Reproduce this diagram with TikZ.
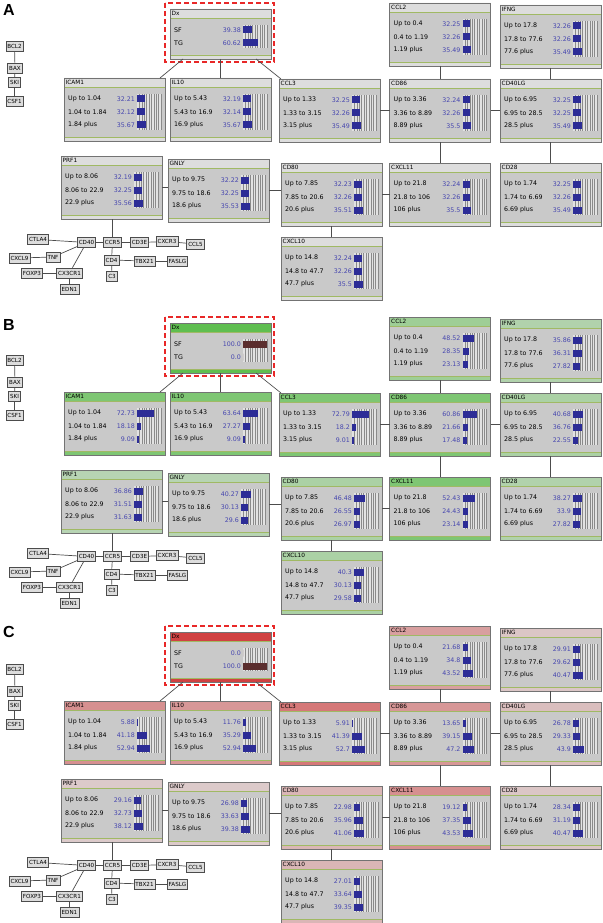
\documentclass[tikz,border=0pt]{standalone}
\usepackage{fontspec}
\newfontfamily\bnfont{DejaVu Sans}
\newfontfamily\lettfont{Liberation Sans}

\definecolor{hdr}{RGB}{221,221,221}
\definecolor{bnbody}{RGB}{201,201,201}
\definecolor{bnline}{RGB}{115,115,115}
\definecolor{sepgreen}{RGB}{160,185,100}
\definecolor{hatchbg}{RGB}{226,226,226}
\definecolor{hatchdark}{RGB}{138,138,138}
\definecolor{valblue}{RGB}{70,70,175}
\definecolor{bnbar}{RGB}{44,44,150}
\definecolor{dxbar}{RGB}{90,45,45}
\definecolor{sfgreen}{RGB}{95,190,80}
\definecolor{tgred}{RGB}{208,66,66}
\definecolor{dxred}{RGB}{232,40,40}

% frame of one node box, drawn in a scope shifted to its top left corner
\newcommand{\bnframe}[3]{%
  \node[bnnode, minimum height=#2pt] (\pfx-#1) at (0,0) {};
  \fill[#3] (0,0) rectangle (101,-9) (0,{4-#2}) rectangle (101,-#2);
  \draw[bnsep] (0,-9) -- (101,-9) (0,{4-#2}) -- (101,{4-#2});
  \node[bntitle] at (1.5,-4.5) {#1};
  \fill[hatchbg] (73,-16) rectangle (97,{11-#2});
  \foreach \k in {1,...,10}
    \draw[hatchline] ({73+2.4*\k},-16) -- ({73+2.4*\k},{11-#2});
}
% one state row: row, label, value, bar colour
\newcommand{\bnrow}[4]{%
  \node[bnlabel] at (4,{-8-13*#1}) {#2};
  \node[bnvalue] at (71,{-8-13*#1}) {#3};
  \fill[#4] (73,{-4.5-13*#1}) rectangle ({73+0.24*#3},{-11.5-13*#1});
}
% name, x, y, cut 1, cut 2, title fill, three values
\newcommand{\bnbox}[9]{%
  \begin{scope}[shift={(#2,{-#3-\py})}]
    \bnframe{#1}{63}{#6}
    \bnrow{1}{Up to #4}{#7}{bnbar}
    \bnrow{2}{#4 to #5}{#8}{bnbar}
    \bnrow{3}{#5 plus}{#9}{bnbar}
    \draw[bnedge] (0,0) rectangle (101,-63);
  \end{scope}}
% Dx box: title fill, bar colour, SF, TG
\newcommand{\dxbox}[4]{%
  \begin{scope}[shift={(170,{-9-\py})}]
    \bnframe{Dx}{50}{#1}
    \bnrow{1}{SF}{#3}{#2}
    \bnrow{2}{TG}{#4}{#2}
    \draw[bnedge] (0,0) rectangle (101,-50);
    \draw[dxsel] (-5,6) rectangle (104,-53);
  \end{scope}}

\begin{document}
\begin{tikzpicture}[x=1pt,y=1pt,
    bnnode/.style={anchor=north west,minimum width=101pt,inner sep=0pt,outer sep=0pt,fill=bnbody},
    bnedge/.style={draw=bnline,line width=0.7pt},
    bnsep/.style={draw=sepgreen,line width=0.5pt},
    hatchline/.style={draw=hatchdark,line width=0.4pt},
    bntitle/.style={anchor=west,inner sep=0pt,font=\bnfont\fontsize{5.8}{6}\selectfont},
    bnlabel/.style={anchor=west,inner sep=0pt,font=\bnfont\fontsize{6.3}{7}\selectfont},
    bnvalue/.style={anchor=east,inner sep=0pt,text=valblue,font=\bnfont\fontsize{6.3}{7}\selectfont},
    gene/.style={draw=gray!60!black,fill=hdr,line width=0.6pt,inner xsep=1.5pt,inner ysep=1pt,
      minimum height=10pt,font=\bnfont\fontsize{5.6}{6}\selectfont},
    link/.style={draw=gray!60!black,line width=0.7pt},
    dxsel/.style={draw=dxred,line width=1.6pt,dash pattern=on 5pt off 3pt},
    panelletter/.style={inner sep=0pt,font=\lettfont\bfseries\fontsize{16}{16}\selectfont}]
\useasboundingbox (0,0) rectangle (602,-923);

% A: no evidence
\def\pfx{a}\def\py{0}
\node[panelletter] (a-letter) at (9,-10) {A};
\dxbox{hdr}{bnbar}{39.38}{60.62}
\bnbox{ICAM1}{64}{78}{1.04}{1.84}{hdr}{32.21}{32.12}{35.67}
\bnbox{IL10}{170}{78}{5.43}{16.9}{hdr}{32.19}{32.14}{35.67}
\bnbox{CCL3}{279}{79}{1.33}{3.15}{hdr}{32.25}{32.26}{35.49}
\bnbox{CCL2}{389.5}{3}{0.4}{1.19}{hdr}{32.25}{32.26}{35.49}
\bnbox{IFNG}{500}{5}{17.8}{77.6}{hdr}{32.26}{32.26}{35.49}
\bnbox{CD86}{389.5}{79}{3.36}{8.89}{hdr}{32.24}{32.26}{35.5}
\bnbox{CD40LG}{500}{79}{6.95}{28.5}{hdr}{32.25}{32.25}{35.49}
\bnbox{PRF1}{61}{156}{8.06}{22.9}{hdr}{32.19}{32.25}{35.56}
\bnbox{GNLY}{168}{159}{9.75}{18.6}{hdr}{32.22}{32.25}{35.53}
\bnbox{CD80}{281}{163}{7.85}{20.6}{hdr}{32.23}{32.26}{35.51}
\bnbox{CXCL11}{389.5}{163}{21.8}{106}{hdr}{32.24}{32.26}{35.5}
\bnbox{CD28}{500}{163}{1.74}{6.69}{hdr}{32.25}{32.26}{35.49}
\bnbox{CXCL10}{281}{237}{14.8}{47.7}{hdr}{32.24}{32.26}{35.5}

% B: Dx = SF
\def\pfx{b}\def\py{314}
\node[panelletter] (b-letter) at (9,-325) {B};
\dxbox{sfgreen}{dxbar}{100.0}{0.0}
\bnbox{ICAM1}{64}{78}{1.04}{1.84}{sfgreen!75!hdr}{72.73}{18.18}{9.09}
\bnbox{IL10}{170}{78}{5.43}{16.9}{sfgreen!75!hdr}{63.64}{27.27}{9.09}
\bnbox{CCL3}{279}{79}{1.33}{3.15}{sfgreen!75!hdr}{72.79}{18.2}{9.01}
\bnbox{CCL2}{389.5}{3}{0.4}{1.19}{sfgreen!50!hdr}{48.52}{28.35}{23.13}
\bnbox{IFNG}{500}{5}{17.8}{77.6}{sfgreen!35!hdr}{35.86}{36.31}{27.82}
\bnbox{CD86}{389.5}{79}{3.36}{8.89}{sfgreen!75!hdr}{60.86}{21.66}{17.48}
\bnbox{CD40LG}{500}{79}{6.95}{28.5}{sfgreen!40!hdr}{40.68}{36.76}{22.55}
\bnbox{PRF1}{61}{156}{8.06}{22.9}{sfgreen!30!hdr}{36.86}{31.51}{31.63}
\bnbox{GNLY}{168}{159}{9.75}{18.6}{sfgreen!30!hdr}{40.27}{30.13}{29.6}
\bnbox{CD80}{281}{163}{7.85}{20.6}{sfgreen!40!hdr}{46.48}{26.55}{26.97}
\bnbox{CXCL11}{389.5}{163}{21.8}{106}{sfgreen!75!hdr}{52.43}{24.43}{23.14}
\bnbox{CD28}{500}{163}{1.74}{6.69}{sfgreen!35!hdr}{38.27}{33.9}{27.82}
\bnbox{CXCL10}{281}{237}{14.8}{47.7}{sfgreen!40!hdr}{40.3}{30.13}{29.58}

% C: Dx = TG
\def\pfx{c}\def\py{623}
\node[panelletter] (c-letter) at (9,-632) {C};
\dxbox{tgred}{dxbar}{0.0}{100.0}
\bnbox{ICAM1}{64}{78}{1.04}{1.84}{tgred!50!hdr}{5.88}{41.18}{52.94}
\bnbox{IL10}{170}{78}{5.43}{16.9}{tgred!45!hdr}{11.76}{35.29}{52.94}
\bnbox{CCL3}{279}{79}{1.33}{3.15}{tgred!65!hdr}{5.91}{41.39}{52.7}
\bnbox{CCL2}{389.5}{3}{0.4}{1.19}{tgred!40!hdr}{21.68}{34.8}{43.52}
\bnbox{IFNG}{500}{5}{17.8}{77.6}{tgred!15!hdr}{29.91}{29.62}{40.47}
\bnbox{CD86}{389.5}{79}{3.36}{8.89}{tgred!45!hdr}{13.65}{39.15}{47.2}
\bnbox{CD40LG}{500}{79}{6.95}{28.5}{tgred!20!hdr}{26.78}{29.33}{43.9}
\bnbox{PRF1}{61}{156}{8.06}{22.9}{tgred!12!hdr}{29.16}{32.73}{38.12}
\bnbox{GNLY}{168}{159}{9.75}{18.6}{tgred!12!hdr}{26.98}{33.63}{39.38}
\bnbox{CD80}{281}{163}{7.85}{20.6}{tgred!25!hdr}{22.98}{35.96}{41.06}
\bnbox{CXCL11}{389.5}{163}{21.8}{106}{tgred!50!hdr}{19.12}{37.35}{43.53}
\bnbox{CD28}{500}{163}{1.74}{6.69}{tgred!15!hdr}{28.34}{31.19}{40.47}
\bnbox{CXCL10}{281}{237}{14.8}{47.7}{tgred!25!hdr}{27.01}{33.64}{39.35}

% genes outside the scored boxes, and all links, same in every panel
\foreach \pfx/\py in {a/0,b/314,c/623} {
  \foreach \g/\gx/\gy in {BCL2/14.5/46, BAX/15/68.5, SKI/14.5/82.5, CSF1/14.5/101,
      CTLA4/38/239.5, CD40/86.5/242.5, CCR5/112.5/242.5, CD3E/139.5/242.5,
      CXCR3/167/241.5, CCL5/195.5/244, CXCL9/19.5/258, TNF/53/257, CD4/111.5/260,
      TBX21/144.5/261, FASLG/177.5/261, FOXP3/32/273, CX3CR1/69.5/273,
      C3/112/276, EDN1/69.5/289}
    \node[gene] (\pfx-\g) at (\gx,{-\gy-\py}) {\g};
  \foreach \s/\t in {BCL2/BAX, BAX/SKI, SKI/CSF1, Dx/IL10, CCL3/CD86, CCL2/CD86,
      CD86/CD40LG, IFNG/CD40LG, CD86/CXCL11, CD40LG/CD28, CXCL11/CD80, CD80/CXCL10,
      CTLA4/CD40, CD40/CCR5, CCR5/CD3E, CD3E/CXCR3, CXCR3/CCL5, CXCL9/TNF, TNF/CD40,
      CX3CR1/CD40, FOXP3/CX3CR1, CX3CR1/EDN1, CCR5/CD4, CD4/TBX21, TBX21/FASLG, CD4/C3}
    \draw[link] (\pfx-\s) -- (\pfx-\t);
  \draw[link] ([xshift=13pt]\pfx-Dx.south west) -- ([xshift=-5pt]\pfx-ICAM1.north east);
  \draw[link] ([xshift=-15pt]\pfx-Dx.south east) -- ([xshift=2pt]\pfx-CCL3.north west);
  \draw[link] (\pfx-GNLY.east) -- (\pfx-GNLY.east -| \pfx-CD80.west);
  \draw[link] (\pfx-PRF1.east) -- (\pfx-PRF1.east -| \pfx-GNLY.west);
  \draw[link] (\pfx-CCR5.north |- \pfx-PRF1.south) -- (\pfx-CCR5.north);
}
\end{tikzpicture}
\end{document}
